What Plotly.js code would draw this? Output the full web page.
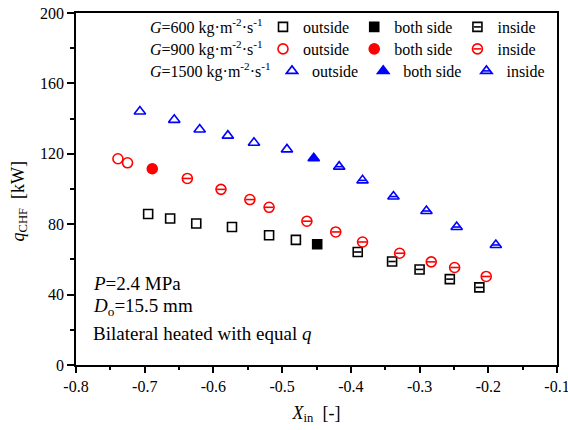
<!DOCTYPE html>
<html>
<head>
<meta charset="utf-8">
<script src="https://cdn.plot.ly/plotly-3.0.1.min.js"></script>
<style>html,body{margin:0;padding:0;background:#fff;}#chart{width:568px;height:430px;}</style>
</head>
<body>
<div id="chart"></div>
<script>
// ---- data ----
var xOut600 = [-0.695, -0.663, -0.625, -0.573, -0.519, -0.480];
var qOut600 = [85.8, 83.2, 80.4, 78.4, 73.7, 71.1];
var xBoth600 = [-0.449];
var qBoth600 = [68.6];
var xIn600 = [-0.390, -0.340, -0.300, -0.256, -0.213];
var qIn600 = [64.2, 58.8, 54.3, 48.8, 44.1];

var xOut900 = [-0.739, -0.725];
var qOut900 = [117.2, 114.9];
var xBoth900 = [-0.689];
var qBoth900 = [111.5];
var xIn900 = [-0.638, -0.589, -0.547, -0.519, -0.464, -0.422, -0.383, -0.329, -0.283, -0.249, -0.203];
var qIn900 = [106.0, 99.8, 94.0, 89.6, 81.7, 75.6, 69.9, 63.5, 58.6, 55.4, 50.3];

var xOut1500 = [-0.707, -0.657, -0.620, -0.579, -0.541, -0.493];
var qOut1500 = [144.0, 139.3, 133.8, 130.3, 126.3, 122.5];
var xBoth1500 = [-0.454];
var qBoth1500 = [117.5];
var xIn1500 = [-0.417, -0.383, -0.338, -0.290, -0.246, -0.189];
var qIn1500 = [112.7, 104.9, 95.7, 87.5, 78.4, 68.2];

var seriesNames = ['outside', 'both side', 'inside'];
var groupLabels = ['<i>G</i>=600 kg·m<sup>-2</sup>·s<sup>-1</sup>',
                   '<i>G</i>=900 kg·m<sup>-2</sup>·s<sup>-1</sup>',
                   '<i>G</i>=1500 kg·m<sup>-2</sup>·s<sup>-1</sup>'];
var xTickVals = [-0.8, -0.7, -0.6, -0.5, -0.4, -0.3, -0.2, -0.1];
var xTickText = ['-0.8', '-0.7', '-0.6', '-0.5', '-0.4', '-0.3', '-0.2', '-0.1'];
var yTickVals = [0, 40, 80, 120, 160, 200];
var noteLines = ['<i>P</i>=2.4 MPa', '<i>D</i><sub>o</sub>=15.5 mm', 'Bilateral heated with equal <i>q</i>'];

// ---- styling ----
var FONT = 'Liberation Serif, Times New Roman, serif';
var BLACK = '#000000', RED = '#ff0000', BLUE = '#0000ff';
var groups = [
  {legend: 'legend',  color: BLACK, key: '0,0,0',   shape: 'square',      size: 9,  bar: 5.2, legX: 263, legY: 27, half: 3.4,
   xs: [xOut600, xBoth600, xIn600], ys: [qOut600, qBoth600, qIn600]},
  {legend: 'legend2', color: RED,   key: '255,0,0', shape: 'circle',      size: 10, bar: 6.2, legX: 263, legY: 49, half: 4.0,
   xs: [xOut900, xBoth900, xIn900], ys: [qOut900, qBoth900, qIn900]},
  {legend: 'legend3', color: BLUE,  key: '0,0,255', shape: 'triangle-up', size: 10, bar: 5.4, legX: 272, legY: 71, half: 3.6,
   xs: [xOut1500, xBoth1500, xIn1500], ys: [qOut1500, qBoth1500, qIn1500]}
];

var data = [];
groups.forEach(function (g) {
  for (var k = 0; k < 3; k++) {
    var filled = (k === 1);
    data.push({
      type: 'scatter', mode: 'markers', x: g.xs[k], y: g.ys[k],
      name: seriesNames[k], legend: g.legend,
      marker: {symbol: filled ? g.shape : g.shape + '-open', size: g.size,
               color: g.color, line: {color: g.color, width: 1.6}},
      hoverinfo: 'skip'
    });
  }
  // horizontal bar inside the "inside" markers
  data.push({
    type: 'scatter', mode: 'markers', x: g.xs[2], y: g.ys[2], showlegend: false,
    marker: {symbol: 'line-ew-open', size: g.bar, color: g.color,
             line: {color: g.color, width: 1.6}},
    hoverinfo: 'skip'
  });
});

var L = 76, R = 11, T = 12, B = 65, W = 568, H = 430;
var pw = W - L - R, ph = H - T - B;
function px2x(p) { return (p - L) / pw; }
function px2y(p) { return (H - B - p) / ph; }

function mkLegend(g) {
  return {
    orientation: 'h', x: px2x(g.legX), xanchor: 'left', y: px2y(g.legY), yanchor: 'middle',
    font: {family: FONT, size: 16, color: '#000'},
    bgcolor: 'rgba(0,0,0,0)', borderwidth: 0, itemwidth: 30,
    itemclick: false, itemdoubleclick: false, tracegroupgap: 0
  };
}

var annotations = [
  {text: '<i>q</i><sub>CHF</sub>\u00a0\u00a0[kW]', xref: 'paper', yref: 'paper',
   x: px2x(19), y: px2y(201), xanchor: 'center', yanchor: 'middle', textangle: -90,
   showarrow: false, font: {family: FONT, size: 18, color: '#000'}}
];
groups.forEach(function (g, i) {
  annotations.push({text: groupLabels[i], xref: 'paper', yref: 'paper',
    x: px2x(148), y: px2y(g.legY - 1), xanchor: 'left', yanchor: 'middle', showarrow: false,
    font: {family: FONT, size: 16, color: '#000'}});
});
var noteY = [283, 307, 333];
noteLines.forEach(function (t, i) {
  annotations.push({text: t, xref: 'paper', yref: 'paper', x: px2x(91), y: px2y(noteY[i]),
    xanchor: 'left', yanchor: 'middle', showarrow: false,
    font: {family: FONT, size: 19, color: '#000'}});
});

var layout = {
  width: W, height: H,
  margin: {l: L, r: R, t: T, b: B},
  paper_bgcolor: '#fff', plot_bgcolor: '#fff',
  showlegend: true,
  font: {family: FONT, size: 16, color: '#000'},
  xaxis: {
    range: [-0.8, -0.1], tickvals: xTickVals, ticktext: xTickText,
    ticklabeloverflow: 'allow',
    ticks: 'outside', ticklen: 6, tickwidth: 1.5, tickcolor: '#000',
    minor: {dtick: 0.05, tick0: -0.8, ticks: 'outside', ticklen: 3, tickwidth: 1.5, tickcolor: '#000', showgrid: false},
    showline: true, linewidth: 1.6, linecolor: '#000', mirror: true,
    showgrid: false, zeroline: false,
    tickfont: {family: FONT, size: 16, color: '#000'},
    title: {text: '<i>X</i><sub>in</sub>\u00a0\u00a0[-]', font: {family: FONT, size: 18, color: '#000'}, standoff: 12},
    automargin: false
  },
  yaxis: {
    range: [0, 200], tickvals: yTickVals,
    ticklabeloverflow: 'allow',
    ticks: 'outside', ticklen: 7, tickwidth: 1.5, tickcolor: '#000',
    minor: {dtick: 20, tick0: 0, ticks: 'outside', ticklen: 4, tickwidth: 1.5, tickcolor: '#000', showgrid: false},
    showline: true, linewidth: 1.6, linecolor: '#000', mirror: true,
    showgrid: false, zeroline: false,
    tickfont: {family: FONT, size: 16, color: '#000'},
    automargin: false
  },
  legend: mkLegend(groups[0]),
  legend2: mkLegend(groups[1]),
  legend3: mkLegend(groups[2]),
  annotations: annotations
};

var gd = document.getElementById('chart');
// add the horizontal bar to the third ("inside") legend symbol of each group
function addLegendBars() {
  try {
    var counts = [0, 0, 0];
    gd.querySelectorAll('g.traces').forEach(function (it) {
      var pt = it.querySelector('path.scatterpts');
      if (!pt) return;
      var stroke = (pt.style.stroke || '').replace(/\s/g, '');
      var gi = -1;
      groups.forEach(function (g, j) { if (stroke === 'rgb(' + g.key + ')') gi = j; });
      if (gi < 0) return;
      counts[gi]++;
      if (counts[gi] !== 3) return;
      var g = groups[gi];
      it.querySelectorAll('path.inbar').forEach(function (o) { o.parentNode.removeChild(o); });
      var np = document.createElementNS('http://www.w3.org/2000/svg', 'path');
      np.setAttribute('class', 'inbar');
      var tf = pt.getAttribute('transform');
      if (tf) np.setAttribute('transform', tf);
      np.setAttribute('d', 'M' + g.half + ',0H-' + g.half);
      np.setAttribute('style', 'fill:none;stroke:' + g.color + ';stroke-width:1.6px;');
      pt.parentNode.appendChild(np);
    });
  } catch (e) {}
}
Plotly.newPlot(gd, data, layout, {displayModeBar: false}).then(function () {
  addLegendBars();
  setTimeout(addLegendBars, 30);
});
</script>
</body>
</html>
